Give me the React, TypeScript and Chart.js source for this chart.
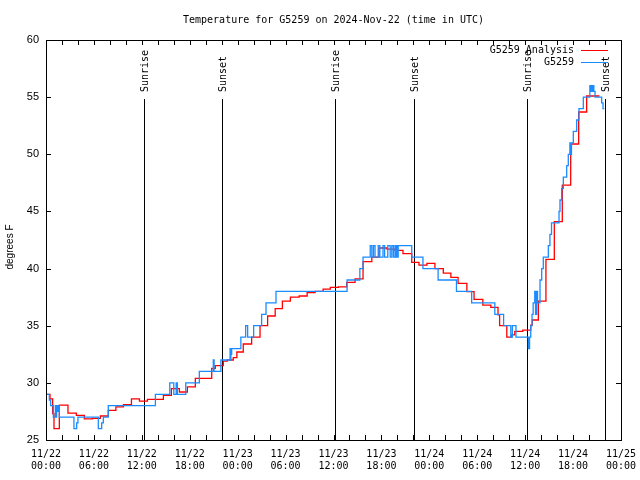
import React, { useEffect, useRef } from 'react';
import { Chart, registerables } from 'chart.js';

Chart.register(...registerables);

const TITLE = 'Temperature for G5259 on 2024-Nov-22 (time in UTC)';
const Y_LABEL = 'degrees F';
const SERIES_NAMES = ['G5259 Analysis', 'G5259'];

const X_MIN_HOURS = 0;
const X_MAX_HOURS = 72;
const X_TICK_STEP_HOURS = 2;
const X_LABEL_STEP_HOURS = 6;
const X_TICK_DATES = ['11/22', '11/22', '11/22', '11/22', '11/23', '11/23', '11/23', '11/23', '11/24', '11/24', '11/24', '11/24', '11/25'];
const X_TICK_TIMES = ['00:00', '06:00', '12:00', '18:00', '00:00', '06:00', '12:00', '18:00', '00:00', '06:00', '12:00', '18:00', '00:00'];

const Y_MIN = 25;
const Y_MAX = 60;
const Y_STEP = 5;

const SUN_EVENT_HOURS = [12.27, 22.05, 36.25, 46.03, 60.27, 70.02];
const SUN_EVENT_LABELS = ['Sunrise', 'Sunset', 'Sunrise', 'Sunset', 'Sunrise', 'Sunset'];

// hours since 11/22 00:00 UTC
const ANALYSIS_HOURS = [0, 0.5, 0.83, 1.0, 1.67, 2.75, 3.8, 4.8, 5.8, 6.8, 7.8, 8.75, 9.7, 10.7, 11.7, 12.7, 14.7, 15.7, 16.7, 17.7, 18.7, 20.75, 21.2, 22.2, 22.7, 23.45, 23.9, 24.7, 25.75, 26.8, 27.75, 28.7, 29.6, 30.6, 31.7, 32.7, 33.7, 34.7, 35.6, 36.6, 37.65, 38.7, 39.7, 40.8, 41.7, 42.7, 43.7, 44.7, 45.8, 46.7, 47.7, 48.7, 49.75, 50.7, 51.6, 52.7, 53.6, 54.7, 55.7, 56.6, 56.8, 57.7, 58.3, 58.7, 59.7, 60.7, 60.9, 61.65, 62.6, 63.65, 64.65, 65.7, 66.7, 67.7, 69.3];
const ANALYSIS_TEMPS = [29.0, 28.6, 27.3, 26.0, 28.05, 27.35, 27.15, 26.85, 26.9, 27.1, 27.6, 27.9, 28.1, 28.6, 28.4, 28.55, 28.9, 29.5, 29.2, 29.65, 30.4, 31.27, 31.5, 31.9, 32.0, 32.2, 32.7, 33.4, 34.0, 35.0, 35.85, 36.5, 37.15, 37.5, 37.6, 37.9, 38.0, 38.2, 38.36, 38.4, 38.8, 39.1, 40.6, 41.0, 41.8, 41.7, 41.6, 41.3, 40.55, 40.3, 40.45, 40.0, 39.6, 39.23, 38.7, 37.98, 37.3, 36.8, 36.6, 35.94, 35.0, 34.0, 34.2, 34.5, 34.62, 35.06, 35.5, 37.16, 40.8, 44.1, 47.3, 50.9, 53.7, 55.1, 55.1];

const OBS_HOURS = [0, 0.42, 0.58, 0.92, 1.17, 1.25, 1.33, 1.45, 1.55, 1.67, 3.5, 3.84, 4.0, 6.55, 6.97, 7.18, 7.8, 13.7, 15.5, 16.0, 16.3, 16.45, 17.5, 19.2, 20.95, 21.05, 21.9, 23.05, 23.1, 23.15, 23.2, 23.25, 24.4, 25.0, 25.25, 26.0, 27.0, 27.55, 28.8, 37.7, 39.3, 39.7, 40.6, 40.8, 41.0, 41.2, 41.6, 41.8, 42.2, 42.4, 42.8, 43.1, 43.3, 43.5, 43.7, 43.8, 43.9, 44.0, 44.1, 45.8, 47.2, 49.1, 51.4, 53.3, 56.2, 57.3, 58.2, 58.4, 58.85, 60.4, 60.55, 60.7, 60.86, 61.0, 61.2, 61.3, 61.45, 61.55, 61.86, 62.07, 62.27, 62.9, 63.1, 63.3, 64.24, 64.36, 64.57, 64.78, 65.2, 65.4, 65.6, 65.7, 65.8, 66.03, 66.45, 66.74, 67.28, 68.1, 68.2, 68.3, 68.4, 68.5, 68.6, 68.75, 69.58, 69.75, 69.9];
const OBS_TEMPS = [29, 28.5, 28, 27, 28, 27, 28, 27.5, 28, 27, 26, 26.5, 27, 26, 26.5, 27, 28, 29, 30, 29, 30, 29, 30, 31, 32, 31, 32, 33, 32, 33, 32.5, 33, 34, 35, 34, 35, 36, 37, 38, 39, 40, 41, 42, 41, 42, 41, 42, 41, 42, 41, 42, 41, 42, 41, 42, 41, 42, 41, 42, 41, 40, 39, 38, 37, 36, 35, 34, 35, 34, 33, 34, 35, 36, 37, 38, 36, 38, 37, 39, 40, 41, 42, 43, 44, 45, 46, 47, 48, 49, 50, 51, 50, 51, 52, 53, 54, 55, 56, 55.5, 56, 55.5, 56, 55.5, 55, 54.5, 54, 54];

const RED = '#ff0000';
const BLUE = '#1a8cff';
const MONO = '"DejaVu Sans Mono", monospace';
const SANS = '"Liberation Sans", Arial, sans-serif';

const toPoints = (xs: number[], ys: number[]) => xs.map((x, i) => ({ x, y: ys[i] }));

const decorPlugin = {
  id: 'decor',
  beforeDatasetsDraw(chart: any) {
    const { ctx, chartArea: a, scales } = chart;
    const x = scales.x;
    ctx.save();
    ctx.strokeStyle = '#000';
    ctx.lineWidth = 1;
    ctx.fillStyle = '#000';
    ctx.font = `10px ${MONO}`;
    SUN_EVENT_HOURS.forEach((h, i) => {
      const px = Math.round(x.getPixelForValue(h)) + 0.5;
      ctx.beginPath();
      ctx.moveTo(px, a.bottom);
      ctx.lineTo(px, a.top + 59);
      ctx.stroke();
      ctx.save();
      ctx.translate(px + 0.5, a.top + 52);
      ctx.rotate(-Math.PI / 2);
      ctx.textAlign = 'left';
      ctx.textBaseline = 'middle';
      ctx.fillText(SUN_EVENT_LABELS[i], 0, 0);
      ctx.restore();
    });
    ctx.restore();
  },
  afterDraw(chart: any) {
    const { ctx, chartArea: a, scales } = chart;
    const x = scales.x;
    const y = scales.y;
    ctx.save();
    ctx.strokeStyle = '#000';
    ctx.lineWidth = 1;
    // frame
    ctx.strokeRect(Math.round(a.left) + 0.5, Math.round(a.top) + 0.5, Math.round(a.right - a.left), Math.round(a.bottom - a.top));
    // ticks (mirrored on all sides, pointing inward)
    ctx.beginPath();
    for (let v = X_MIN_HOURS; v <= X_MAX_HOURS; v += X_TICK_STEP_HOURS) {
      const px = Math.round(x.getPixelForValue(v)) + 0.5;
      ctx.moveTo(px, a.bottom);
      ctx.lineTo(px, a.bottom - 5);
      ctx.moveTo(px, a.top);
      ctx.lineTo(px, a.top + 5);
    }
    for (let v = Y_MIN; v <= Y_MAX; v += Y_STEP) {
      const py = Math.round(y.getPixelForValue(v)) + 0.5;
      ctx.moveTo(a.left, py);
      ctx.lineTo(a.left + 5, py);
      ctx.moveTo(a.right, py);
      ctx.lineTo(a.right - 5, py);
    }
    ctx.stroke();

    // title
    ctx.fillStyle = '#000';
    ctx.font = `10px ${MONO}`;
    ctx.textAlign = 'center';
    ctx.textBaseline = 'middle';
    ctx.fillText(TITLE, (a.left + a.right) / 2, 20);

    // y label
    ctx.save();
    ctx.translate(10, (a.top + a.bottom) / 2 + 7);
    ctx.rotate(-Math.PI / 2);
    ctx.font = `10px ${SANS}`;
    ctx.textAlign = 'center';
    ctx.textBaseline = 'middle';
    ctx.fillText(Y_LABEL, 0, 0);
    ctx.restore();

    // legend
    const colors = [RED, BLUE];
    ctx.font = `10px ${MONO}`;
    ctx.textAlign = 'right';
    ctx.textBaseline = 'middle';
    SERIES_NAMES.forEach((name, i) => {
      const ly = a.top + 10 + i * 12;
      ctx.fillStyle = '#000';
      ctx.fillText(name, a.right - 47, ly);
      ctx.strokeStyle = colors[i];
      ctx.lineWidth = 1;
      ctx.beginPath();
      ctx.moveTo(a.right - 40, ly + 0.5);
      ctx.lineTo(a.right - 13, ly + 0.5);
      ctx.stroke();
    });
    ctx.restore();
  },
};

export default function App() {
  const ref = useRef<HTMLCanvasElement | null>(null);
  useEffect(() => {
    if (!ref.current) return;
    const chart = new Chart(ref.current, {
      type: 'line',
      data: {
        datasets: [
          {
            label: SERIES_NAMES[1],
            data: toPoints(OBS_HOURS, OBS_TEMPS),
            borderColor: BLUE,
            borderWidth: 1.3,
            pointRadius: 0,
            stepped: 'before',
            fill: false,
            order: 0,
          },
          {
            label: SERIES_NAMES[0],
            data: toPoints(ANALYSIS_HOURS, ANALYSIS_TEMPS),
            borderColor: RED,
            borderWidth: 1.3,
            pointRadius: 0,
            stepped: 'before',
            fill: false,
            order: 1,
          },
        ],
      },
      options: {
        animation: false,
        responsive: false,
        maintainAspectRatio: false,
        layout: { padding: { left: 0, right: 19, top: 40, bottom: 0 } },
        plugins: {
          legend: { display: false },
          title: { display: false },
          tooltip: { enabled: false },
        },
        scales: {
          x: {
            type: 'linear',
            min: X_MIN_HOURS,
            max: X_MAX_HOURS,
            grid: { display: false, drawTicks: false },
            border: { display: false },
            ticks: {
              stepSize: X_TICK_STEP_HOURS,
              autoSkip: false,
              maxRotation: 0,
              minRotation: 0,
              padding: 8,
              color: '#000',
              font: { family: MONO, size: 10, lineHeight: 1.25 },
              callback: (v: any) => {
                const n = Number(v);
                if (n % X_LABEL_STEP_HOURS !== 0) return '';
                const i = n / X_LABEL_STEP_HOURS;
                return [X_TICK_DATES[i], X_TICK_TIMES[i]];
              },
            },
            afterFit: (s: any) => {
              s.height = 40;
              s.paddingLeft = 0;
              s.paddingRight = 0;
            },
          },
          y: {
            min: Y_MIN,
            max: Y_MAX,
            grid: { display: false, drawTicks: false },
            border: { display: false },
            ticks: {
              stepSize: Y_STEP,
              padding: 7,
              color: '#000',
              font: { family: SANS, size: 11 },
            },
            afterFit: (s: any) => {
              s.width = 46;
              s.paddingTop = 0;
              s.paddingBottom = 0;
            },
          },
        },
      },
      plugins: [decorPlugin],
    });
    return () => chart.destroy();
  }, []);
  return (
    <div style={{ position: 'fixed', left: 0, top: 0, width: 640, height: 480, background: '#fff' }}>
      <canvas ref={ref} width={640} height={480} />
    </div>
  );
}
